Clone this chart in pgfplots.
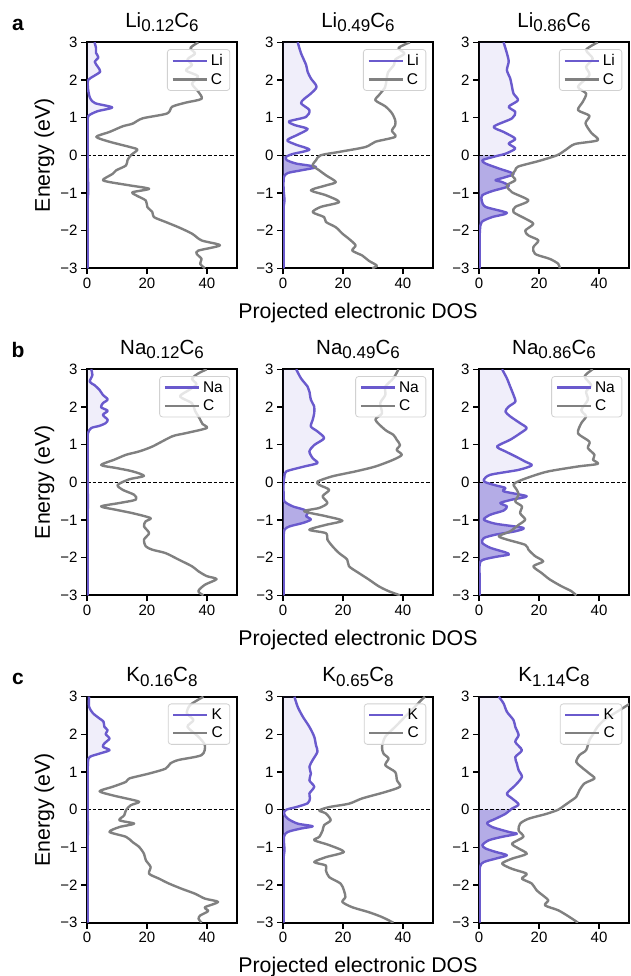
\documentclass[border=0pt]{standalone}
\usepackage{fontspec}
\setmainfont{Liberation Sans}
\usepackage{pgfplots}
\pgfplotsset{compat=1.18}
\usepackage{pgfplotstable}
\definecolor{metal}{RGB}{106,90,205}
\definecolor{cgray}{RGB}{128,128,128}

\newcommand{\chem}[4]{#1{\fontsize{17}{17}\selectfont\raisebox{-4.5pt}{#2}}#3{\fontsize{17}{17}\selectfont\raisebox{-4.5pt}{#4}}}

\pgfplotstableread{
E D
3.05 0
3 2.5
2.85 3.0
2.72 3.0
2.6 3.8
2.48 2.6
2.35 3.6
2.22 4.4
2.1 2.2
2.0 0.4
1.8 0.3
1.6 0.7
1.48 1.3
1.38 2.8
1.27 8.4
1.17 3.5
1.05 0.5
0.9 0.2
0.5 0.2
0 0.2
-0.5 0.3
-1.0 0.4
-1.2 0.2
-1.5 0.2
-2 0.2
-2.5 0.2
-3 0.2
-3.05 0
}\AoneM
\pgfplotstableread{
E D
3 37.1
2.85 34.5
2.7 36
2.55 33.5
2.4 35
2.25 33
2.1 37
1.9 35
1.7 37
1.5 38.2
1.4 33
1.29 28.4
1.11 26.7
0.98 18.5
0.84 15.2
0.77 11.9
0.62 7.5
0.49 3.1
0.36 7.5
0.22 14.3
0.15 16.8
0 14.6
-0.13 13.5
-0.27 13
-0.4 9.7
-0.49 8.6
-0.65 5.3
-0.71 7.5
-0.8 14.3
-0.89 20.7
-0.98 15.2
-1.06 16.3
-1.2 19.6
-1.37 20.1
-1.51 21.8
-1.64 22.3
-1.77 26.2
-1.91 30.5
-2.08 35
-2.26 38.2
-2.39 44.3
-2.53 37.1
-2.62 36.6
-2.75 38.2
-2.88 37.7
-3 39.3
}\AoneC
\pgfplotstableread{
E D
3.05 0
3 4.9
2.71 6.0
2.4 7.7
2.22 8.2
2.04 9.3
1.82 11.2
1.64 9.3
1.5 7.1
1.38 6.0
1.2 8.8
1.02 7.7
0.9 2.0
0.8 4.0
0.7 8.2
0.55 5.0
0.4 1.4
0.28 4.4
0.15 8.8
0.04 3.5
0 2.0
-0.05 0.9
-0.13 1.3
-0.22 4.4
-0.31 11.0
-0.4 6.0
-0.47 1.6
-0.58 0.3
-0.9 0.2
-1.2 0.5
-1.4 0.2
-2 0.2
-2.5 0.2
-3 0.2
-3.05 0
}\AtwoM
\pgfplotstableread{
E D
3 42.3
2.85 38.5
2.7 40.5
2.55 37.5
2.4 37
2.2 35
2.0 34.5
1.8 34
1.6 32
1.46 30.8
1.3 34.1
1.12 36.3
0.93 37.4
0.8 37.4
0.65 36.3
0.49 37.4
0.36 30.8
0.22 27.5
0.09 18.7
0 12.5
-0.13 11
-0.27 9.9
-0.4 12.1
-0.53 14.3
-0.71 17.6
-0.8 14.3
-0.93 9.3
-1.06 14.3
-1.24 18.7
-1.37 12.6
-1.51 9.9
-1.64 13.7
-1.77 14.3
-1.91 17.6
-2.08 19.8
-2.22 22
-2.39 24.2
-2.53 23.1
-2.66 26.4
-2.8 28.6
-2.93 31.3
-3 29.7
}\AtwoC
\pgfplotstableread{
E D
3.05 0
3 8.2
2.71 9.3
2.49 9.9
2.26 9.3
2.04 10.4
1.82 11
1.64 11.5
1.46 13
1.29 9.9
1.15 12.1
0.98 11
0.76 4.9
0.62 8.2
0.44 12.1
0.31 9.9
0.18 12.1
0.04 8.8
0 6.8
-0.04 4.9
-0.13 1.1
-0.22 2.2
-0.35 6.6
-0.49 11.5
-0.58 8.8
-0.66 5.5
-0.71 7.7
-0.82 9.9
-0.95 4.4
-1.06 1.1
-1.2 0.9
-1.37 2.2
-1.53 9.3
-1.64 4.4
-1.77 0.9
-2.0 0.3
-2.5 0.2
-3 0.2
-3.05 0
}\AthreeM
\pgfplotstableread{
E D
3 39.6
2.8 35.7
2.57 37.9
2.35 35.7
2.13 36.8
1.82 33
1.64 35.7
1.42 34.6
1.2 33
1.05 36.8
0.85 35.5
0.6 37.4
0.4 39.6
0.3 32
0.15 29
0 26
-0.15 20
-0.3 13
-0.4 12.1
-0.53 11
-0.66 12.1
-0.8 9.3
-0.98 11
-1.2 16.5
-1.37 12.1
-1.51 11.5
-1.68 15.4
-1.82 18.1
-2.0 15.4
-2.13 16.5
-2.26 19.8
-2.44 18.1
-2.62 18.7
-2.75 23.6
-2.88 26.4
-3 26.9
}\AthreeC
\pgfplotstableread{
E D
3.05 0
3 1.4
2.85 1.8
2.67 0.9
2.58 2.5
2.45 4.2
2.32 5.3
2.2 6.9
2.1 5.3
1.99 4.7
1.9 6.9
1.79 5.3
1.66 6.9
1.57 6.2
1.5 4.2
1.44 1.4
1.3 0.3
1 0.2
0.5 0.2
0 0.2
-0.5 0.3
-1 0.2
-1.5 0.2
-2 0.2
-2.5 0.2
-3 0.2
-3.05 0
}\BoneM
\pgfplotstableread{
E D
3 39.9
2.89 37.1
2.75 35
2.6 36.5
2.45 34
2.28 31
2.1 35
1.9 36
1.7 37.5
1.55 38.5
1.44 39.9
1.3 32.7
1.22 28.4
0.95 21.8
0.82 17.4
0.73 13
0.6 9.1
0.46 4.7
0.38 9.7
0.29 15.2
0.17 19
0.08 14.1
-0.07 10.2
-0.2 11.9
-0.33 15.7
-0.46 16.3
-0.55 10.8
-0.64 4.7
-0.73 9.7
-0.82 15.2
-0.95 21.2
-1.04 19.5
-1.17 19
-1.35 20.7
-1.52 19
-1.7 19.6
-1.79 21.8
-1.88 26.2
-2.05 30.5
-2.23 35
-2.36 37.1
-2.49 39.9
-2.57 43.2
-2.72 39.3
-2.89 37.1
-3 38.8
}\BoneC
\pgfplotstableread{
E D
3.05 0
3 4.4
2.76 6.0
2.54 8.2
2.41 8.8
2.19 9.3
2.01 10.4
1.83 10.4
1.66 9.9
1.48 9.3
1.35 11.5
1.17 13.7
0.99 10.4
0.82 8.8
0.64 9.9
0.51 11.5
0.42 7.1
0.29 1.1
0.16 0.5
0 0.2
-0.3 0.2
-0.51 0.5
-0.64 3.3
-0.73 7.1
-0.82 8.2
-0.9 7.7
-0.99 9.3
-1.08 6.6
-1.17 2.2
-1.26 0.5
-1.5 0.2
-2 0.2
-2.5 0.2
-3 0.2
-3.05 0
}\BtwoM
\pgfplotstableread{
E D
3 38.5
2.76 36.8
2.54 34.1
2.32 34.1
2.1 32.4
1.83 33
1.66 30.8
1.39 34.1
1.26 36.8
1.13 37.9
0.99 39
0.86 37.9
0.73 39.6
0.6 36.8
0.42 30.8
0.29 24.2
0.16 16.5
0.02 11.5
-0.07 12.1
-0.2 15.4
-0.37 13.2
-0.55 14.8
-0.68 12.1
-0.77 7.1
-0.9 14.3
-1.02 19.8
-1.13 14.3
-1.26 8.8
-1.35 14.3
-1.52 14.8
-1.7 16.5
-1.88 18.7
-2.05 21.4
-2.23 22
-2.41 25.3
-2.58 28.6
-2.76 31.9
-2.89 35.2
-3 39
}\BtwoC
\pgfplotstableread{
E D
3.05 0
3 7.7
2.76 9.3
2.54 10.4
2.32 11.5
2.14 12.1
2.01 9.9
1.88 8.8
1.75 10.4
1.57 13.7
1.44 15.9
1.3 13.7
1.13 10.4
0.95 6.0
0.82 8.8
0.69 12.1
0.55 15.4
0.45 17.6
0.33 13.2
0.2 3.8
0.07 1.6
0 2.2
-0.08 5.5
-0.15 8.8
-0.24 8.2
-0.37 15.9
-0.46 11
-0.55 7.1
-0.64 9.3
-0.75 8.2
-0.86 3.8
-0.99 1.6
-1.1 5.5
-1.21 14.8
-1.3 12.1
-1.39 5.5
-1.48 1.6
-1.61 1.1
-1.74 3.8
-1.86 8.8
-1.92 9.9
-1.99 4.9
-2.1 0.5
-2.5 0.2
-3 0.2
-3.05 0
}\BthreeM
\pgfplotstableread{
E D
3 37.9
2.81 35.2
2.58 37.4
2.41 35.7
2.19 36.3
1.92 34.1
1.75 35.7
1.57 34.1
1.3 33
1.08 36.8
0.91 36.3
0.73 38.5
0.6 38.0
0.49 39.6
0.42 33
0.29 23.1
0.16 17.6
0.03 13.2
-0.06 11.5
-0.2 12.6
-0.33 13.2
-0.51 12.1
-0.64 14.3
-0.82 13.7
-0.99 15.4
-1.13 13.2
-1.3 10.4
-1.43 6.6
-1.52 9.3
-1.66 15.4
-1.79 16.5
-1.96 18.7
-2.1 21.4
-2.23 18.1
-2.41 20.9
-2.58 23.6
-2.76 27.5
-2.89 30.8
-3 32.4
}\BthreeC
\pgfplotstableread{
E D
3.05 0
3 0.7
2.73 0.7
2.56 2.0
2.42 4.2
2.34 5.5
2.2 5.8
2.11 6.9
2.01 6.2
1.89 7.5
1.76 5.8
1.67 5.3
1.58 7.5
1.49 4.2
1.4 0.9
1.23 0.3
0.5 0.2
0 0.2
-0.5 0.3
-1 0.2
-2 0.2
-3 0.2
-3.05 0
}\ConeM
\pgfplotstableread{
E D
3 38.8
2.78 34.4
2.56 33.3
2.38 35.5
2.2 33.5
1.94 37.1
1.71 39.3
1.45 38.2
1.32 30.5
1.23 27.8
1.09 26.2
0.96 20.7
0.83 14.1
0.74 13
0.61 8.6
0.49 4.2
0.38 8.6
0.3 13
0.21 17.4
0.12 14.6
-0.01 13
-0.15 12.4
-0.28 10.8
-0.37 15.7
-0.46 10.8
-0.59 7.5
-0.72 13
-0.86 15.2
-0.99 17.4
-1.17 19
-1.34 19.6
-1.52 21.2
-1.7 20.7
-1.83 24
-1.96 27.3
-2.1 31.6
-2.23 36
-2.36 39.3
-2.45 43.7
-2.59 39.3
-2.69 40.4
-2.81 37.7
-2.9 37.2
-3 38.2
}\ConeC
\pgfplotstableread{
E D
3.05 0
3 3.8
2.73 4.9
2.47 6.6
2.2 8.8
1.94 10.4
1.71 11
1.54 11.5
1.32 9.9
1.14 8.8
0.96 9.3
0.78 8.8
0.61 10.4
0.43 8.8
0.3 9.0
0.17 8.2
0.07 4.4
0 1.1
-0.1 0.3
-0.24 1.6
-0.37 4.9
-0.44 9.9
-0.5 6.0
-0.59 1.6
-0.72 0.3
-1.08 0.5
-1.26 0.2
-2 0.2
-3 0.2
-3.05 0
}\CtwoM
\pgfplotstableread{
E D
3 47.3
2.87 45.6
2.65 43
2.47 40.7
2.2 37.4
1.94 34.1
1.67 33
1.49 33.5
1.36 35.2
1.18 34.1
1.0 37.4
0.78 38
0.61 39
0.47 34.1
0.3 26.4
0.16 22
0.07 15.4
-0.02 12.1
-0.1 14.3
-0.28 15.9
-0.41 13.7
-0.55 13.2
-0.72 12.1
-0.81 10.4
-0.94 15.4
-1.12 20.3
-1.26 14.3
-1.39 10.4
-1.48 14.3
-1.61 14.3
-1.79 15.4
-1.96 19.2
-2.14 20.3
-2.32 20.8
-2.45 19.8
-2.59 23.1
-2.72 28.6
-2.85 33
-3 36.8
}\CtwoC
\pgfplotstableread{
E D
3.05 0
3 6.6
2.82 8.2
2.6 9.3
2.38 11.5
2.2 12.1
1.98 13.2
1.8 12.1
1.58 14.3
1.4 12.1
1.23 12.6
1.05 13.2
0.87 14.3
0.65 12.1
0.43 9.3
0.3 11
0.14 13.2
0.03 11
0 10.5
-0.11 8.8
-0.24 5.5
-0.35 2.7
-0.46 4.4
-0.59 9.9
-0.64 12.6
-0.72 7.7
-0.81 3.3
-0.94 1.1
-1.03 2.2
-1.12 5.5
-1.21 9.3
-1.3 5.5
-1.39 1.6
-1.52 0.3
-2 0.2
-3 0.2
-3.05 0
}\CthreeM
\pgfplotstableread{
E D
3 54
2.8 50
2.6 46
2.4 42
2.2 39.5
2.0 38
1.85 36.8
1.58 35.7
1.45 33.5
1.27 32.4
1.14 34
0.96 36.8
0.83 38.5
0.7 35.2
0.52 33.5
0.34 32.4
0.21 30.2
0.12 28.6
0 26.4
-0.11 22.5
-0.24 16.5
-0.37 13.7
-0.55 13.2
-0.72 14.8
-0.9 11
-1.03 13.2
-1.17 15.9
-1.3 11
-1.43 7.7
-1.57 11
-1.7 15.9
-1.83 14.3
-1.96 17.6
-2.14 19.2
-2.32 22
-2.41 23.1
-2.54 22
-2.67 26.4
-2.85 30.2
-3 33
}\CthreeC

\pgfplotsset{
  dosaxis/.style={
    scale only axis, width=150pt, height=226pt, anchor=north west,
    xmin=0, xmax=50, ymin=-3, ymax=3,
    xtick={0,20,40}, xticklabels={0,20,40},
    ytick={-3,-2,-1,0,1,2,3}, yticklabels={−3,−2,−1,0,1,2,3},
    tick align=outside, xtick pos=bottom, ytick pos=left,
    major tick length=6pt,
    every tick/.style={black, line width=1.5pt},
    axis line style={line width=2pt},
    tick label style={font=\fontsize{15}{15}\selectfont},
    title style={font=\fontsize{20.5}{20.5}\selectfont, at={(axis description cs:0.5,1.04)}, anchor=base},
    xlabel style={font=\fontsize{21.3}{21.3}\selectfont, at={(axis description cs:0.5,-0.221)}, anchor=base},
    ylabel style={font=\fontsize{21.3}{21.3}\selectfont, at={(axis description cs:-0.247,0.5)}, anchor=base},
    legend style={at={(0.955,0.97)}, anchor=north east, draw=black!18, line width=0.8pt,
      rounded corners=3pt, fill=white, fill opacity=0.8, text opacity=1,
      font=\fontsize{15.5}{15.5}\selectfont, inner xsep=4pt, inner ysep=4pt, row sep=4pt,
      nodes={inner xsep=3pt, inner ysep=1pt}},
    legend cell align=left,
    legend image code/.code={\draw[##1, line width=2.4pt] (0pt,0pt) -- (34pt,0pt);},
  },
  dosline/.style={line width=2.4pt, smooth, tension=0.45, line join=round},
}

\newcommand{\dospanel}[6]{%
\begin{axis}[dosaxis, at={(#1)}, title={#4}, #6]
\addplot[fill=metal, fill opacity=0.1, draw=none, forget plot, smooth, tension=0.45]
  table[x expr={\thisrow{E}<0 ? 0 : \thisrow{D}}, y expr={\thisrow{E}<0 ? 0 : \thisrow{E}}] {#2};
\addplot[fill=metal, fill opacity=0.5, draw=none, forget plot, smooth, tension=0.45]
  table[x expr={\thisrow{E}>0 ? 0 : \thisrow{D}}, y expr={\thisrow{E}>0 ? 0 : \thisrow{E}}] {#2};
\addplot[black, line width=0.8pt, dash pattern=on 3.5pt off 2pt, forget plot] coordinates {(0,0) (50,0)};
\addplot[metal, dosline, restrict y to domain=-3:3] table[x=D,y=E] {#2};
\addlegendentry{#5}
\addplot[cgray, dosline] table[x=D,y=E] {#3};
\addlegendentry{C}
\end{axis}}

\begin{document}
\begin{tikzpicture}
\dospanel{87pt,-42.3pt}{\AoneM}{\AoneC}{\chem{Li}{0.12}{C}{6}}{Li}{ylabel={Energy (eV)}}
\dospanel{283pt,-42.3pt}{\AtwoM}{\AtwoC}{\chem{Li}{0.49}{C}{6}}{Li}{xlabel={Projected electronic DOS}}
\dospanel{479pt,-42.3pt}{\AthreeM}{\AthreeC}{\chem{Li}{0.86}{C}{6}}{Li}{}
\dospanel{87pt,-369.3pt}{\BoneM}{\BoneC}{\chem{Na}{0.12}{C}{6}}{Na}{ylabel={Energy (eV)}}
\dospanel{283pt,-369.3pt}{\BtwoM}{\BtwoC}{\chem{Na}{0.49}{C}{6}}{Na}{xlabel={Projected electronic DOS}}
\dospanel{479pt,-369.3pt}{\BthreeM}{\BthreeC}{\chem{Na}{0.86}{C}{6}}{Na}{}
\dospanel{87pt,-696.7pt}{\ConeM}{\ConeC}{\chem{K}{0.16}{C}{8}}{K}{ylabel={Energy (eV)}}
\dospanel{283pt,-696.7pt}{\CtwoM}{\CtwoC}{\chem{K}{0.65}{C}{8}}{K}{xlabel={Projected electronic DOS}}
\dospanel{479pt,-696.7pt}{\CthreeM}{\CthreeC}{\chem{K}{1.14}{C}{8}}{K}{}
\node[anchor=base, font=\bfseries\fontsize{21}{21}\selectfont] at (18pt,-31pt) {a};
\node[anchor=base, font=\bfseries\fontsize{21}{21}\selectfont] at (18pt,-357pt) {b};
\node[anchor=base, font=\bfseries\fontsize{21}{21}\selectfont] at (18pt,-684pt) {c};
\pgfresetboundingbox
\path[use as bounding box] (0pt,0pt) rectangle (630pt,-976pt);
\end{tikzpicture}
\end{document}
